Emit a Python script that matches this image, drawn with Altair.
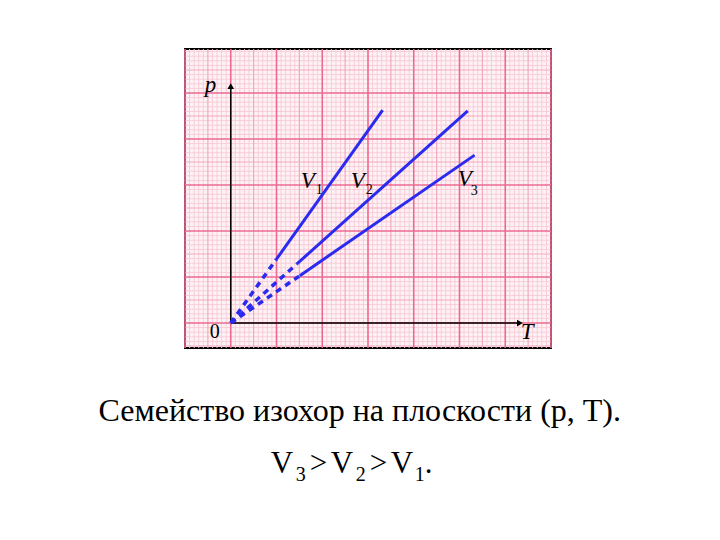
import altair as alt
import pandas as pd
import numpy as np

# ---- data (graph units: 1 unit = one major grid square) ----
series = ["V1", "V2", "V3"]
T_end = [3.32, 5.18, 5.33]
p_end = [4.63, 4.61, 3.65]
T_solid_start = [1.0, 1.44, 1.51]
p_solid_start = [1.39, 1.28, 1.03]

X_MIN, X_MAX = -1.0, 7.0
Y_MIN, Y_MAX = -0.543, 5.957
W, H = 366, 299
SERIF = "Liberation Serif, Times New Roman, DejaVu Serif, serif"

# pixel -> data helpers for annotation placement
def dx(px):
    return (px - 231) / (W / (X_MAX - X_MIN))
def dy(py):
    return (323 - py) / (H / (Y_MAX - Y_MIN))

xs = alt.Scale(domain=[X_MIN, X_MAX], nice=False, zero=False)
ys = alt.Scale(domain=[Y_MIN, Y_MAX], nice=False, zero=False)

# graph paper
fine_x = np.round(np.arange(-1.0, 7.01, 0.1), 2)
fine_y = np.round(np.arange(-0.5, 5.96, 0.1), 2)
def level(v):
    if abs(v - round(v)) < 1e-6:
        return "major"
    if abs(v * 2 - round(v * 2)) < 1e-6:
        return "medium"
    return "fine"

vx = pd.DataFrame({"x": fine_x, "lvl": [level(v) for v in fine_x]})
hy = pd.DataFrame({"y": fine_y, "lvl": [level(v) for v in fine_y]})

def grid(df, orient, lvl):
    sub = df[df.lvl == lvl]
    if orient == "v":
        enc = dict(x=alt.X("x:Q", scale=xs, axis=None))
    else:
        enc = dict(y=alt.Y("y:Q", scale=ys, axis=None))
    w = {"fine": 1, "medium": 1.2, "major": 1.6}[lvl]
    c = {"fine": "#f8cdd8", "medium": "#f2a9bd", "major": "#ec6a90"}[lvl]
    return alt.Chart(sub).mark_rule(color=c, strokeWidth=w).encode(**enc)

grid_layers = []
for lvl in ["fine", "medium", "major"]:
    grid_layers.append(grid(vx, "v", lvl))
    grid_layers.append(grid(hy, "h", lvl))

# axes
axes_df = pd.DataFrame({
    "x": [0, 0], "y": [0, 0], "x2": [0, 6.32], "y2": [5.15, 0]
})
axes = alt.Chart(axes_df).mark_rule(color="black", strokeWidth=1.5).encode(
    x=alt.X("x:Q", scale=xs, axis=None), y=alt.Y("y:Q", scale=ys, axis=None),
    x2="x2:Q", y2="y2:Q")

arrows_df = pd.DataFrame({"x": [0, 6.32], "y": [5.15, 0], "shape": ["triangle-up", "triangle-right"]})
arrows = alt.Chart(arrows_df).mark_point(filled=True, color="black", size=45, opacity=1).encode(
    x=alt.X("x:Q", scale=xs, axis=None), y=alt.Y("y:Q", scale=ys, axis=None),
    shape=alt.Shape("shape:N", scale=None, legend=None))

# isochores
solid_rows, dash_rows = [], []
for s, t0, p0, t1, p1 in zip(series, T_solid_start, p_solid_start, T_end, p_end):
    solid_rows += [{"s": s, "T": t0, "p": p0, "o": 0}, {"s": s, "T": t1, "p": p1, "o": 1}]
    dash_rows += [{"s": s, "T": 0.0, "p": 0.0, "o": 0}, {"s": s, "T": t0, "p": p0, "o": 1}]

solid = alt.Chart(pd.DataFrame(solid_rows)).mark_line(color="#2b2bf0", strokeWidth=3).encode(
    x=alt.X("T:Q", scale=xs, axis=None), y=alt.Y("p:Q", scale=ys, axis=None),
    detail="s:N", order="o:Q")
dashed = alt.Chart(pd.DataFrame(dash_rows)).mark_line(color="#2b2bf0", strokeWidth=3.5, strokeDash=[6, 5]).encode(
    x=alt.X("T:Q", scale=xs, axis=None), y=alt.Y("p:Q", scale=ys, axis=None),
    detail="s:N", order="o:Q")

# text helper
def txt(rows, size, style="normal", align="left"):
    return alt.Chart(pd.DataFrame(rows)).mark_text(
        font=SERIF, fontSize=size, fontStyle=style, align=align,
        baseline="alphabetic", color="black").encode(
        x=alt.X("x:Q", scale=xs, axis=None), y=alt.Y("y:Q", scale=ys, axis=None), text="t:N")

big_labels = txt([
    {"x": dx(205), "y": dy(92), "t": "p"},
    {"x": dx(301), "y": dy(188), "t": "V"},
    {"x": dx(351), "y": dy(188), "t": "V"},
    {"x": dx(458), "y": dy(186), "t": "V"},
    {"x": dx(521), "y": dy(339), "t": "T"},
], 23, "italic")
zero_label = txt([{"x": dx(210), "y": dy(338), "t": "0"}], 20)
sub_labels = txt([
    {"x": dx(316), "y": dy(194), "t": "1"},
    {"x": dx(366), "y": dy(194), "t": "2"},
    {"x": dx(471), "y": dy(195), "t": "3"},
], 14)

# caption
cap1 = txt([{"x": dx(360), "y": dy(421), "t": "Семейство изохор на плоскости (р, Т)."}], 32, align="center")
cap_big = txt([
    {"x": dx(271), "y": dy(473), "t": "V"},
    {"x": dx(310), "y": dy(473), "t": ">"},
    {"x": dx(331), "y": dy(473), "t": "V"},
    {"x": dx(370), "y": dy(473), "t": ">"},
    {"x": dx(391), "y": dy(473), "t": "V"},
    {"x": dx(425), "y": dy(473), "t": "."},
], 31)
cap_sub = txt([
    {"x": dx(296), "y": dy(481), "t": "3"},
    {"x": dx(356), "y": dy(481), "t": "2"},
    {"x": dx(415), "y": dy(481), "t": "1"},
], 20)

chart = alt.layer(*grid_layers, axes, arrows, dashed, solid,
                  big_labels, zero_label, sub_labels, cap1, cap_big, cap_sub).properties(
    width=W, height=H,
    autosize=alt.AutoSizeParams(type="none"),
    padding={"left": 177, "top": 41, "right": 720 - 16 - 177 - W, "bottom": 540 - 16 - 41 - H},
    background="white",
).configure_view(stroke="black", strokeWidth=2, fill="#fdf3f6")

chart.save("out.html", embed_options={"renderer": "svg", "actions": False})
